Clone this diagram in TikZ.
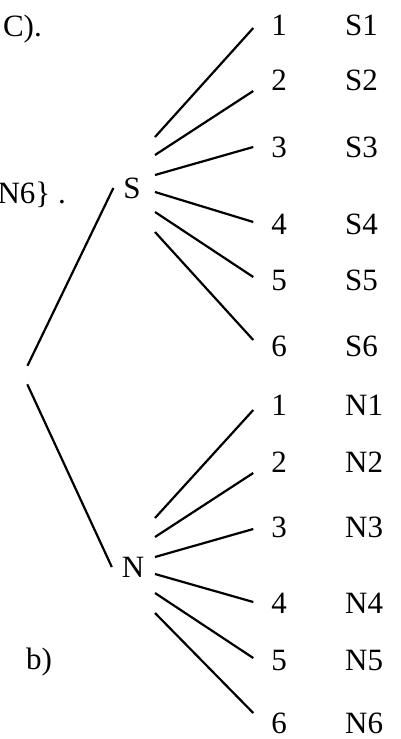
\documentclass[tikz,border=0pt]{standalone}
\usepackage{fontspec}
\setmainfont{Liberation Serif}
\usetikzlibrary{calc}

\begin{document}
\begin{tikzpicture}[
    x=1pt, y=-1pt, font=\fontsize{31}{35}\selectfont,
    branch/.style={line width=2.2pt, black},
    outcome/.style={inner sep=0pt, outer sep=0pt, anchor=center},
    event/.style={inner xsep=10pt, inner ysep=2pt, outer sep=0pt},
    pair/.style={inner sep=0pt, anchor=west},
    frag/.style={inner sep=0pt, anchor=base east},
]
\useasboundingbox (0,0) rectangle (400,739);

% ===================== Restos de texto (izquierda) =====================
\node[frag] (fragC) at (42,36) {C).};
\node[frag] (fragN) at (66,203) {N6\} .};
\node[inner sep=0pt, anchor=base west] (lblb) at (26,669) {b)};

% ===================== Nodos del árbol =====================
\node[circle, minimum size=20pt, inner sep=0pt] (root) at (23,375) {};
\node[event] (S) at (132,188) {S};
\node[event] (N) at (133,567) {N};

% ===================== Resultados: S =====================
\foreach \i/\y in {1/25, 2/80, 3/147, 4/224, 5/280, 6/346} {
  \node[outcome] (s\i) at (279,\y) {\i};
  \node[pair] (ps\i) at (345,\y) {S\i};
}

% ===================== Resultados: N =====================
\foreach \i/\y in {1/405, 2/462, 3/527, 4/603, 5/660, 6/723} {
  \node[outcome] (n\i) at (279,\y) {\i};
  \node[pair] (pn\i) at (345,\y) {N\i};
}

% ===================== Ramas =====================
\draw[branch] (root) -- (S.west);
\draw[branch] (root) -- (N.west);

\foreach \i/\a/\b in {1/-51/3, 2/-33/11, 3/-13/0, 4/4/-2, 5/24/-3, 6/44/-6}
  \draw[branch] ($(S.center)+(23,\a)$) -- ($(s\i.west)+(-18,\b)$);

\foreach \i/\a/\b in {1/-49/5, 2/-30/11, 3/-10/2, 4/7/-1, 5/26/-2, 6/46/-10}
  \draw[branch] ($(N.center)+(22,\a)$) -- ($(n\i.west)+(-18,\b)$);

\end{tikzpicture}
\end{document}
